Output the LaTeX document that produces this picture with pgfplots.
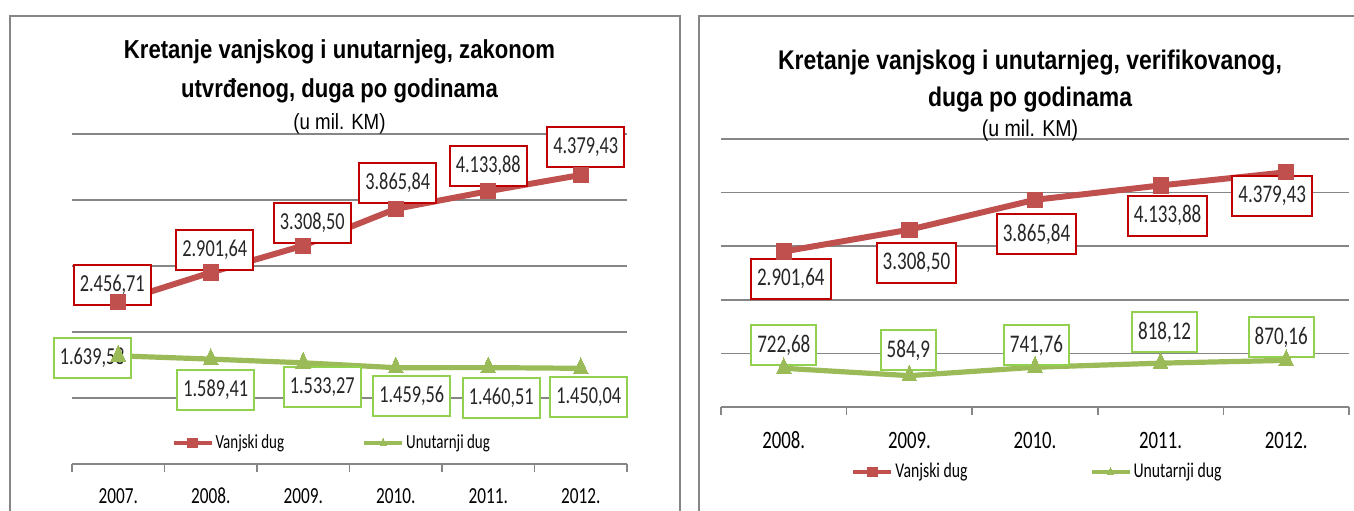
\documentclass[border=0pt]{standalone}
\usepackage{pgfplots}
\usepackage{pgfplotstable}
\pgfplotsset{compat=1.18}
\usepackage{fontspec}
\setmainfont{Carlito}[FakeStretch=0.75]
\newfontfamily\titlefont{Liberation Sans}[FakeStretch=0.85]

\definecolor{vanj}{RGB}{192,80,77}
\definecolor{unut}{RGB}{155,187,89}
\definecolor{vanjbox}{RGB}{192,0,0}
\definecolor{unutbox}{RGB}{146,208,80}
\definecolor{gridgray}{RGB}{134,134,134}

% x = category index, dx/dy = label offset in pt
\pgfplotstableread{
x y lab dx dy
0 2456.71 2.456,71 -3 8.5
1 2901.64 2.901,64 2 11.25
2 3308.50 3.308,50 4.5 11.5
3 3865.84 3.865,84 1 13
4 4133.88 4.133,88 0 12.75
5 4379.43 4.379,43 2.5 14
}\vanjA
\pgfplotstableread{
x y lab dx dy
0 1639.58 1.639,58 -13 -1
1 1589.41 1.589,41 2.5 -15.5
2 1533.27 1.533,27 9.5 -12
3 1459.56 1.459,56 8 -14
4 1460.51 1.460,51 6.5 -15
5 1450.04 1.450,04 4 -14.5
}\unutA
\pgfplotstableread{
x y lab dx dy
0 2901.64 2.901,64 3.5 -13.75
1 3308.50 3.308,50 3.5 -16.5
2 3865.84 3.865,84 0.75 -17.25
3 4133.88 4.133,88 3.5 -15.25
4 4379.43 4.379,43 -7 -12
}\vanjB
\pgfplotstableread{
x y lab dx dy
0 722.68 722,68 0 11.5
1 584.9 584,9 -0.5 12.8
2 741.76 741,76 0.75 11
3 818.12 818,12 2 15.5
4 870.16 870,16 -2.5 11.5
}\unutB

\pgfplotsset{
  dugaxis/.style={
    scale only axis, clip=false,
    axis lines*=left, x axis line style={-, gridgray, line width=0.75pt},
    y axis line style={draw=none},
    ymin=0, ymax=5000, ytick={0,1000,...,5000}, yticklabels={},
    ytick style={draw=none},
    ymajorgrids, major grid style={gridgray, line width=0.75pt},
    xtick={0,...,5}, major tick length=0pt,
    minor tick length=4pt, tick align=outside,
    minor x tick style={gridgray, line width=0.75pt},
    legend columns=2,
    legend image code/.code={
      \draw[##1, line width=2pt, mark size=2.3pt, mark repeat=2, mark phase=2]
        plot coordinates {(0pt,0pt) (9.5pt,0pt) (19pt,0pt)};},
    title style={at={(0.5,1)}, anchor=south, align=center, inner sep=0pt},
  },
  labels/.style={forget plot, draw=none, mark=none,
    nodes near coords, point meta=explicit symbolic,
    visualization depends on={\thisrow{dx}\as\labdx},
    visualization depends on={\thisrow{dy}\as\labdy},
    every node near coord/.append style={anchor=center, draw=#1, fill=white,
      line width=1pt, inner xsep=3pt, inner ysep=0pt, minimum height=20pt,
      text=black!85, xshift=\labdx pt, yshift=\labdy pt}},
  vanjline/.style={vanj, line width=3pt, mark=square*, mark size=3.8pt,
    mark options={solid, fill=vanj, draw=vanj, line width=0pt}},
  unutline/.style={unut, line width=2.6pt, mark=triangle*, mark size=5.3pt,
    mark options={solid, fill=unut, draw=unut, line width=0pt, xscale=0.8}},
}

\begin{document}
\begin{tikzpicture}
\useasboundingbox (0,0) rectangle (677pt,255pt);
\clip (0,0) rectangle (677pt,255pt);
\draw[gridgray, line width=1pt] (5pt,-10pt) rectangle (340pt,247pt);
\draw[gridgray, line width=1pt] (349.5pt,-10pt) rectangle (700pt,247pt);

\begin{axis}[dugaxis,
  at={(36pt,23pt)}, anchor=south west,
  width=277.5pt, height=165pt,
  xmin=-0.5, xmax=5.5,
  minor xtick={-0.5,0.5,...,5.5},
  xticklabels={2007.,2008.,2009.,2010.,2011.,2012.},
  xticklabel style={anchor=center, yshift=-16pt, font=\fontsize{11.5}{13}\selectfont},
  title={Kretanje vanjskog i unutarnjeg, zakonom\\
    utvrđenog, duga po godinama\\[-3.5pt]
    {\mdseries\fontsize{11}{13}\selectfont (u mil. KM)}},
  title style={xshift=-5pt, yshift=-6pt,
    font=\titlefont\bfseries\fontsize{13}{19.5}\selectfont},
  legend style={at={(0.468,0.064)}, anchor=center, draw=none, fill=none,
    font=\fontsize{10}{12}\selectfont, inner sep=0pt, nodes={inner sep=1pt},
    /tikz/every even column/.append style={column sep=38pt}},
]
\addplot[labels=vanjbox, every node near coord/.append style={font=\fontsize{12.2}{14}\selectfont}]
  table[x=x, y=y, meta=lab] {\vanjA};
\addplot[labels=unutbox, every node near coord/.append style={font=\fontsize{12.2}{14}\selectfont}]
  table[x=x, y=y, meta=lab] {\unutA};
\addplot[vanjline] table[x=x, y=y] {\vanjA};
\addplot[unutline] table[x=x, y=y] {\unutA};
\legend{Vanjski dug, Unutarnji dug}
\end{axis}

\begin{axis}[dugaxis,
  at={(360.5pt,51.5pt)}, anchor=south west,
  width=314pt, height=134pt,
  xmin=-0.5, xmax=4.5,
  xtick={0,...,4},
  minor xtick={-0.5,0.5,...,4.5},
  xticklabels={2008.,2009.,2010.,2011.,2012.},
  xticklabel style={anchor=center, yshift=-16.5pt, font=\fontsize{12.5}{14}\selectfont},
  title={Kretanje vanjskog i unutarnjeg, verifikovanog,\\
    duga po godinama\\[-3.5pt]
    {\mdseries\fontsize{11.5}{13}\selectfont (u mil. KM)}},
  title style={xshift=-2.5pt, yshift=-7.5pt,
    font=\titlefont\bfseries\fontsize{13.5}{18.5}\selectfont},
  legend style={at={(0.504,-0.2425)}, anchor=center, draw=none, fill=none,
    font=\fontsize{10.5}{12}\selectfont, inner sep=0pt, nodes={inner sep=1pt},
    /tikz/every even column/.append style={column sep=60pt}},
]
\addplot[labels=vanjbox, every node near coord/.append style={font=\fontsize{12.7}{14}\selectfont}]
  table[x=x, y=y, meta=lab] {\vanjB};
\addplot[labels=unutbox, every node near coord/.append style={font=\fontsize{12.7}{14}\selectfont}]
  table[x=x, y=y, meta=lab] {\unutB};
\addplot[vanjline] table[x=x, y=y] {\vanjB};
\addplot[unutline] table[x=x, y=y] {\unutB};
\legend{Vanjski dug, Unutarnji dug}
\end{axis}
\end{tikzpicture}
\end{document}
